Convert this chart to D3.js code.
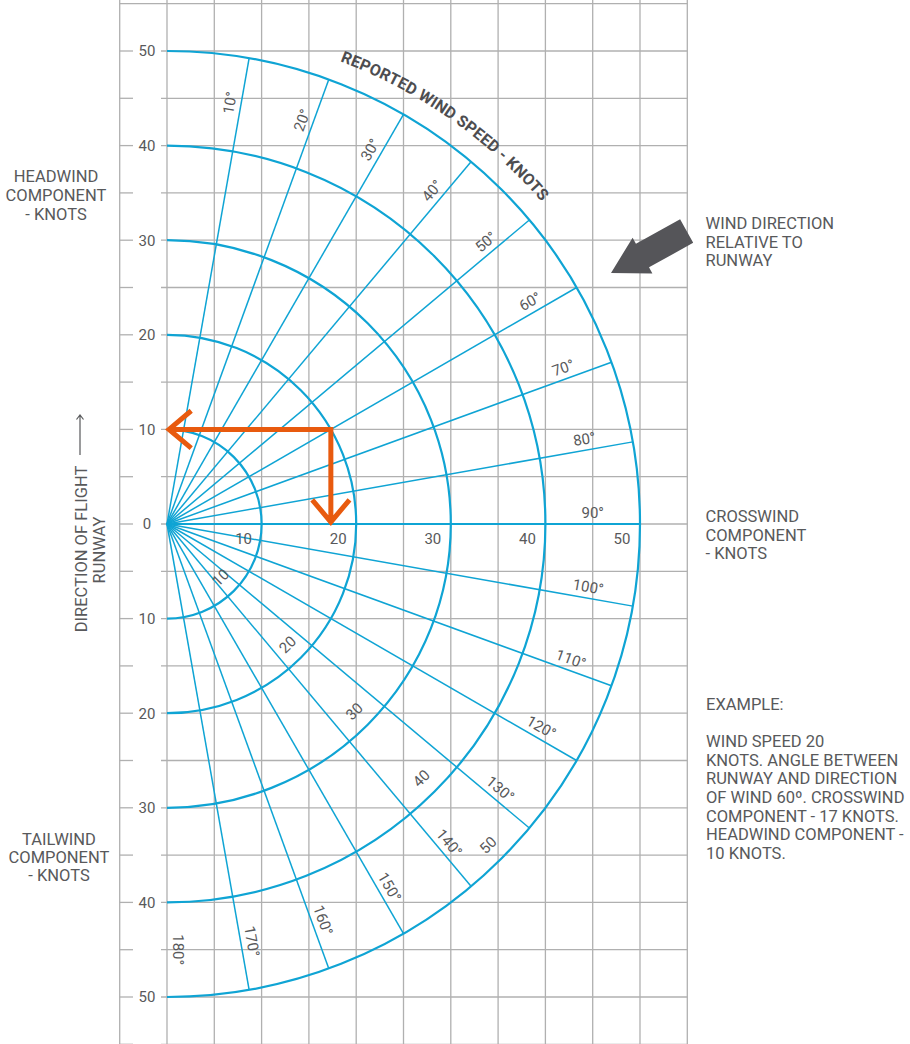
<!DOCTYPE html>
<html>
<head>
<meta charset="utf-8">
<script src="https://cdnjs.cloudflare.com/ajax/libs/d3/7.8.5/d3.min.js"></script>
<style>
	body { margin: 0; background: #fff; }
	text { font-family: Roboto, "Noto Sans", sans-serif; fill: #58595b; }
</style>
</head>
<body>
<svg id="chart" width="910" height="1044"></svg>
<script>

// wind speed rings (knots)
var speeds = [10, 20, 30, 40, 50];
// angle between runway and wind, degrees
var bearings = [10, 20, 30, 40, 50, 60, 70, 80, 90, 100, 110, 120, 130, 140, 150, 160, 170];
var bearing_labels = [10, 20, 30, 40, 50, 60, 70, 80, 90, 100, 110, 120, 130, 140, 150, 160, 170, 180];
// headwind (+) / tailwind (-) tick values
var component_ticks = [50, 40, 30, 20, 10, 0, -10, -20, -30, -40, -50];
var cross_ticks = [10, 20, 30, 40, 50];
// worked example
var example_speed = 20;
var example_angle = 60;

var headwind_text = ['HEADWIND', 'COMPONENT', '- KNOTS'];
var tailwind_text = ['TAILWIND', 'COMPONENT', '- KNOTS'];
var crosswind_text = ['CROSSWIND', 'COMPONENT', '- KNOTS'];
var direction_text = ['WIND DIRECTION', 'RELATIVE TO', 'RUNWAY'];
var example_text = ['EXAMPLE:', '', 'WIND SPEED 20', 'KNOTS. ANGLE BETWEEN', 'RUNWAY AND DIRECTION',
	'OF WIND 60º. CROSSWIND', 'COMPONENT - 17 KNOTS.', 'HEADWIND COMPONENT -', '10 KNOTS.'];

var blue = '#0fa4d4';
var grid = '#b0b0b0';
var orange = '#e85a0e';

var svg = d3.select('#chart');

var x = d3.scaleLinear().domain([-5, 55]).range([119.7, 687.3]);
var y = d3.scaleLinear().domain([-55, 55]).range([1044.3, 3.7]);
var r = d3.scaleLinear().domain([0, 50]).range([0, x(50) - x(0)]);

function pt(k, deg) {
	var a = deg * Math.PI / 180;
	return [x(k * Math.sin(a)), y(k * Math.cos(a))];
}

// grid
var g = svg.append('g');
g.selectAll('.vline')
	.data(d3.range(-5, 55.1, 5))
	.enter().append('line')
	.attr('x1', d => x(d)).attr('x2', d => x(d))
	.attr('y1', 0).attr('y2', 1044)
	.attr('stroke', grid).attr('stroke-width', 1.3);

var hv = d3.range(-55, 55.1, 5);
g.selectAll('.hline')
	.data(hv)
	.enter().append('line')
	.attr('x1', d => d == 55 ? x(-5) : 161).attr('x2', x(55))
	.attr('y1', d => y(d)).attr('y2', d => y(d))
	.attr('stroke', grid).attr('stroke-width', 1.3);
g.selectAll('.htick')
	.data(hv.filter(d => d != 55))
	.enter().append('line')
	.attr('x1', x(-5)).attr('x2', 133)
	.attr('y1', d => y(d)).attr('y2', d => y(d))
	.attr('stroke', grid).attr('stroke-width', 1.3);

svg.selectAll('.ytick')
	.data(component_ticks)
	.enter().append('text')
	.attr('x', 147).attr('y', d => y(d) + 5.3)
	.attr('text-anchor', 'middle')
	.style('font-size', '15px')
	.text(d => Math.abs(d));

// radial lines
svg.selectAll('.radial')
	.data(bearings)
	.enter().append('line')
	.attr('x1', x(0)).attr('y1', y(0))
	.attr('x2', d => pt(50, d)[0]).attr('y2', d => pt(50, d)[1])
	.attr('stroke', blue)
	.attr('stroke-width', d => d == 90 ? 2.2 : 1.5);

// speed rings
svg.selectAll('.ring')
	.data(speeds)
	.enter().append('path')
	.attr('d', function(k) {
		var p = d3.path();
		p.moveTo(x(0), y(k));
		p.arc(x(0), y(0), r(k), -Math.PI / 2, Math.PI / 2);
		return p.toString();
	})
	.attr('fill', 'none')
	.attr('stroke', blue)
	.attr('stroke-width', 2.2);

// bearing labels
svg.selectAll('.blabel')
	.data(bearing_labels)
	.enter().append('text')
	.attr('transform', d => 'translate(' + pt(45, d) + ') rotate(' + (d - 90) + ')')
	.attr('y', -6)
	.attr('text-anchor', 'middle')
	.style('font-size', '15px')
	.text(d => d + '°');

// speed labels along 90 and 135 degrees
svg.selectAll('.slabel')
	.data(cross_ticks)
	.enter().append('text')
	.attr('x', d => pt(d - 1.9, 90)[0]).attr('y', y(0) + 19.5)
	.attr('text-anchor', 'middle')
	.style('font-size', '15px')
	.text(d => d);

svg.selectAll('.dlabel')
	.data(speeds)
	.enter().append('text')
	.attr('transform', d => 'translate(' + pt(d - 2, 135) + ') rotate(-45)')
	.attr('y', 5.3)
	.attr('text-anchor', 'middle')
	.style('font-size', '15px')
	.text(d => d);

// curved title
var ta = d3.path();
ta.arc(x(0), y(0), r(50) + 21, (20.5 - 90) * Math.PI / 180, (55 - 90) * Math.PI / 180);
svg.append('path').attr('id', 'title_arc').attr('d', ta.toString()).attr('fill', 'none');
svg.append('text')
	.style('font-size', '16px').style('font-weight', 'bold').style('fill', '#4d4d50')
	.append('textPath')
	.attr('href', '#title_arc')
	.attr('textLength', 248)
	.text('REPORTED WIND SPEED - KNOTS');

// worked example arrows
var ex = example_speed * Math.sin(example_angle * Math.PI / 180);
var ey = example_speed * Math.cos(example_angle * Math.PI / 180);
var ah = 29, aa = 40 * Math.PI / 180;
var p1 = d3.path();
p1.moveTo(x(ex), y(ey));
p1.lineTo(x(0) + 2, y(ey));
p1.moveTo(x(0) + 2 + ah * Math.cos(aa), y(ey) - ah * Math.sin(aa));
p1.lineTo(x(0) + 2, y(ey));
p1.lineTo(x(0) + 2 + ah * Math.cos(aa), y(ey) + ah * Math.sin(aa));
p1.moveTo(x(ex), y(ey) - 2.5);
p1.lineTo(x(ex), y(0) - 2);
p1.moveTo(x(ex) - ah * Math.sin(aa), y(0) - 2 - ah * Math.cos(aa));
p1.lineTo(x(ex), y(0) - 2);
p1.lineTo(x(ex) + ah * Math.sin(aa), y(0) - 2 - ah * Math.cos(aa));
svg.append('path')
	.attr('d', p1.toString())
	.attr('fill', 'none')
	.attr('stroke', orange)
	.attr('stroke-width', 5);

// wind direction block arrow
svg.append('path')
	.attr('d', 'M0,0 L36,-20.4 L36,-13.5 L86.5,-13.5 L86.5,13.5 L36,13.5 L36,20.4 Z')
	.attr('transform', 'translate(611,273) rotate(-29)')
	.attr('fill', '#555559');

// side texts
function block(lines, x0, y0, dy, anchor) {
	svg.append('g').selectAll('text')
		.data(lines)
		.enter().append('text')
		.attr('x', x0).attr('y', (d, i) => y0 + i * dy)
		.attr('text-anchor', anchor)
		.style('font-size', '16.5px')
		.text(d => d);
}
block(headwind_text, 56, 181.7, 19.2, 'middle');
block(tailwind_text, 59, 844.5, 18, 'middle');
block(crosswind_text, 705.5, 522.3, 18.4, 'start');
block(direction_text, 705.5, 229, 18.6, 'start');
block(example_text, 706, 710, 18.6, 'start');

// runway direction label
var rl = svg.append('g');
rl.append('text')
	.attr('transform', 'translate(86.7,549) rotate(-90)')
	.attr('text-anchor', 'middle')
	.style('font-size', '16.5px')
	.text('DIRECTION OF FLIGHT');
rl.append('text')
	.attr('transform', 'translate(105,550) rotate(-90)')
	.attr('text-anchor', 'middle')
	.style('font-size', '16.5px')
	.text('RUNWAY');
rl.append('path')
	.attr('d', 'M80,455 L80,415 M76.5,419.5 L80,415 L83.5,419.5')
	.attr('fill', 'none')
	.attr('stroke', '#58595b')
	.attr('stroke-width', 1.2);

</script>
</body>
</html>
